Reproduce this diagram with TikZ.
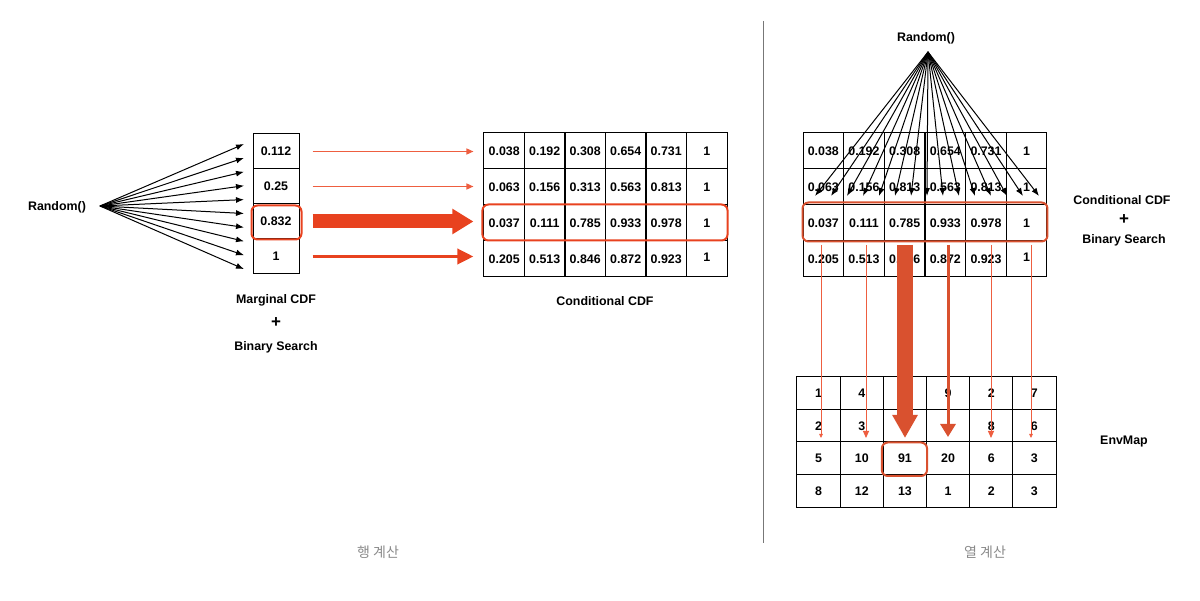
\documentclass[tikz,border=0pt]{standalone}
\usepackage{fontspec}
\setmainfont{Liberation Sans}
\newfontfamily\krfont{Noto Sans CJK KR}
\usetikzlibrary{arrows.meta,calc}
\definecolor{hred}{HTML}{E8421F}
\definecolor{lred}{HTML}{EE5E40}
\definecolor{dred}{HTML}{D9512F}
\definecolor{gtext}{HTML}{8A8A8A}
\definecolor{divg}{HTML}{777777}
\tikzset{
  cellbase/.style={draw=black, line width=1pt, inner sep=0pt, font=\fontsize{12.4}{14}\selectfont\bfseries},
  mcell/.style={cellbase, minimum width=46pt, minimum height=35pt},
  tcell/.style={cellbase, minimum width=40.6pt, minimum height=36pt},
  ecell/.style={cellbase, minimum width=43.2pt, minimum height=32.5pt},
  lbl/.style={inner sep=0pt, font=\fontsize{12.4}{14}\selectfont\bfseries},
  plus/.style={inner sep=0pt, font=\fontsize{17}{18}\selectfont\bfseries},
  kr/.style={inner sep=0pt, text=gtext, font=\krfont\fontsize{14}{16}\selectfont},
  fanarrow/.style={black, line width=1pt, -{Latex[length=8pt,width=6pt]}},
  hlbox/.style={draw=hred, line width=2pt, rounded corners=6pt},
  hlboxd/.style={draw=dred, line width=2pt, rounded corners=6pt},
}
\begin{document}
\begin{tikzpicture}[x=1pt,y=-1pt]
\useasboundingbox (0,0) rectangle (1200,601);

% ---------- left: marginal CDF ----------
\node[lbl] (rl) at (57,207) {Random()};
\coordinate (lo) at (100,206);
\foreach \v [count=\i] in {0.112,0.25,0.832,1}
  \node[mcell] (m\i) at (276,{134+35*(\i-0.5)}) {\v};
\foreach \k in {0,...,9} {
  \coordinate (lt\k) at (244,{144+13.9*\k});
  \draw[fanarrow] (lo) -- (lt\k);
}
\draw[hlbox] ($(m3.north west)+(-1,2)$) rectangle ($(m3.south east)+(2,0)$);
\node[lbl] (mlab) at (276,300) {Marginal CDF};
\node[plus] (mplus) at (276,323) {+};
\node[lbl] (mbs) at (276,347) {Binary Search};

% ---------- middle: conditional CDF ----------
\foreach \row [count=\i] in {
  {0.038,0.192,0.308,0.654,0.731,1},
  {0.063,0.156,0.313,0.563,0.813,1},
  {0.037,0.111,0.785,0.933,0.978,1},
  {0.205,0.513,0.846,0.872,0.923,{\raisebox{4pt}{1}}}} {
  \foreach \v [count=\j] in \row
    \node[tcell] (c\i\j) at ({484+40.5*(\j-0.5)},{133+36*(\i-0.5)}) {\v};
}
\draw[hlbox] ($(c31.north west)+(-1,0)$) rectangle ($(c36.south east)+(0,-1)$);
\node[lbl] (clab) at (605,301) {Conditional CDF};

\draw[lred, line width=1.4pt, -{Triangle[length=7pt,width=6pt]}]
  ($(m1.east)+(13,0)$) -- ($(m1.east -| c11.west)+(-10,0)$);
\draw[lred, line width=1.4pt, -{Triangle[length=7pt,width=6pt]}]
  ($(m2.east)+(13,0)$) -- ($(m2.east -| c21.west)+(-10,0)$);
\draw[hred, line width=14pt, -{Triangle[length=21pt,width=24pt]}]
  ($(m3.east)+(13,0)$) -- ($(m3.east -| c31.west)+(-10,0)$);
\draw[hred, line width=3.5pt, -{Triangle[length=16pt,width=15pt]}]
  ($(m4.east)+(13,0)$) -- ($(m4.east -| c41.west)+(-10,0)$);

% ---------- divider ----------
\draw[divg, line width=1.3pt] (763.5,21) -- (763.5,543);

% ---------- right: conditional CDF per column ----------
\node[lbl] (rr) at (926,38) {Random()};
\coordinate (ro) at (928,52);
\foreach \row [count=\i] in {
  {0.038,0.192,0.308,0.654,0.731,1},
  {0.063,0.156,0.813,0.563,0.813,1},
  {0.037,0.111,0.785,0.933,0.978,1},
  {0.205,0.513,0.846,0.872,0.923,{\raisebox{4pt}{1}}}} {
  \foreach \v [count=\j] in \row
    \node[tcell] (r\i\j) at ({803+40.67*(\j-0.5)},{133+36*(\i-0.5)}) {\v};
}
\foreach \k in {0,...,14} {
  \coordinate (rt\k) at ({815+16*\k},196);
  \draw[fanarrow] (ro) -- (rt\k);
}
\draw[hlboxd] ($(r31.north west)+(0,-2)$) rectangle (r36.south east);
\node[lbl] (rclab) at (1122,200) {Conditional CDF};
\node[plus] (rplus) at (1124,220) {+};
\node[lbl] (rbs) at (1124,240) {Binary Search};

% ---------- EnvMap ----------
\foreach \row [count=\i] in {
  {1,4,{},9,2,7},
  {2,3,{},{},8,6},
  {5,10,91,20,6,3},
  {8,12,13,1,2,3}} {
  \foreach \v [count=\j] in \row
    \node[ecell] (e\i\j) at ({797+43.17*(\j-0.5)},{377+32.5*(\i-0.5)}) {\v};
}
\draw[hlboxd] ($(e33.north west)+(-1,1)$) rectangle ($(e33.south east)+(0,1)$);
\node[lbl] (elab) at (1124,442) {EnvMap};

% vertical arrows
\coordinate (s1) at (821,245); \coordinate (t1) at (821,438);
\coordinate (s2) at (866,245); \coordinate (t2) at (866,438);
\coordinate (s3) at (905,245); \coordinate (t3) at (905,438);
\coordinate (s4) at (948,245); \coordinate (t4) at (948,437);
\coordinate (s5) at (991,245); \coordinate (t5) at (991,438);
\coordinate (s6) at (1031,245); \coordinate (t6) at (1031,438);
\draw[lred, line width=0.8pt, -{Triangle[length=4pt,width=3.5pt]}] (s1) -- (t1);
\draw[lred, line width=1pt, -{Triangle[length=7pt,width=6pt]}] (s2) -- (t2);
\draw[dred, line width=16pt, -{Triangle[length=23pt,width=24pt]}] (s3) -- (t3);
\draw[dred, line width=3pt, -{Triangle[length=13pt,width=15pt]}] (s4) -- (t4);
\draw[lred, line width=1pt, -{Triangle[length=7pt,width=6pt]}] (s5) -- (t5);
\draw[lred, line width=0.8pt, -{Triangle[length=4pt,width=3.5pt]}] (s6) -- (t6);

% ---------- bottom labels ----------
\node[kr] (kl) at (378,552) {행 계산};
\node[kr] (kr2) at (985,552) {열 계산};
\end{tikzpicture}
\end{document}
